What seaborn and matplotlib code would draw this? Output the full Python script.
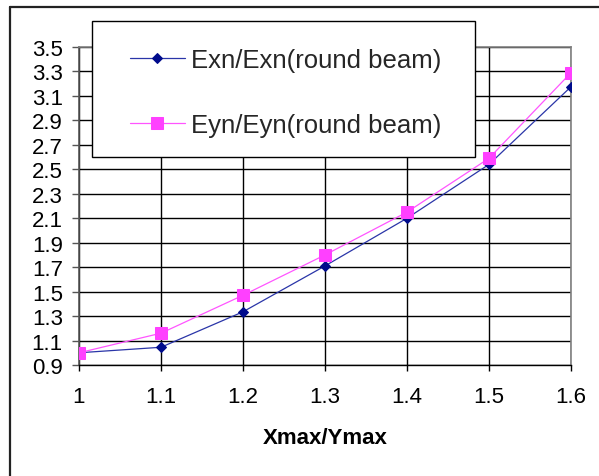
import matplotlib
matplotlib.use("Agg")
import matplotlib.pyplot as plt
from matplotlib.lines import Line2D
from matplotlib.patches import Rectangle
import seaborn as sns
import numpy as np

# Emittance ratio versus aperture aspect ratio
aspect = [1.0, 1.1, 1.2, 1.3, 1.4, 1.5, 1.6]
exn_ratio = [1.00, 1.045, 1.335, 1.71, 2.10, 2.54, 3.175]
eyn_ratio = [1.00, 1.16, 1.47, 1.80, 2.15, 2.59, 3.29]
series_labels = ["Exn/Exn(round beam)", "Eyn/Eyn(round beam)"]
x_ticks = [1.0, 1.1, 1.2, 1.3, 1.4, 1.5, 1.6]
x_tick_labels = ["1", "1.1", "1.2", "1.3", "1.4", "1.5", "1.6"]
y_ticks = [0.9, 1.1, 1.3, 1.5, 1.7, 1.9, 2.1, 2.3, 2.5, 2.7, 2.9, 3.1, 3.3, 3.5]

sns.set_theme(style="white")
plt.rcParams["font.family"] = ["Liberation Sans", "DejaVu Sans"]

W, H = 599, 477
fig = plt.figure(figsize=(W / 100, H / 100), dpi=100)
ax = fig.add_axes([79 / W, 1 - 366 / H, (571 - 79) / W, (366 - 48) / H])

sns.lineplot(x=aspect, y=exn_ratio, ax=ax, color="#2a35a8", lw=0.9,
             marker="D", markersize=5.2, markerfacecolor="#000b8c",
             markeredgecolor="#000b8c", label=series_labels[0], zorder=3)
sns.lineplot(x=aspect, y=eyn_ratio, ax=ax, color="#ff55ff", lw=0.9,
             marker="s", markersize=8.6, markerfacecolor="#ff40ff",
             markeredgecolor="#ff40ff", label=series_labels[1], zorder=4)

ax.set_xlim(1.0, 1.6)
ax.set_ylim(0.9, 3.5)
ax.set_xticks(x_ticks)
ax.set_xticklabels(x_tick_labels)
ax.set_yticks(y_ticks)
ax.set_yticklabels([f"{v:.1f}" for v in y_ticks])

ax.grid(True, color="black", lw=1.0, zorder=0)
ax.set_axisbelow(True)
for side in ["top", "right", "left"]:
    ax.spines[side].set_color("#808080")
    ax.spines[side].set_linewidth(1.2)
ax.spines["bottom"].set_color("black")
ax.spines["bottom"].set_linewidth(1.0)
ax.spines["left"].set_color("#555555")

ax.tick_params(axis="y", direction="out", length=5.2, width=1.0, color="#555555",
               labelsize=16, pad=6.5, left=True, labelcolor="black")
ax.tick_params(axis="x", direction="out", length=4.3, width=1.0, color="black",
               labelsize=16, pad=11, bottom=True, labelcolor="black")

ax.set_xlabel("Xmax/Ymax", fontsize=16, fontweight="bold", labelpad=14, color="black")
ax.set_ylabel("")

# Legend box with white fill over the grid
box = Rectangle((92 / W, 1 - 158 / H), (475 - 92) / W, (158 - 22) / H,
                transform=fig.transFigure, facecolor="white", edgecolor="black",
                lw=1.0, zorder=10, clip_on=False)
ax.add_artist(box)
leg = ax.legend(loc="upper left", bbox_to_anchor=(130 / W, 1 - 49 / H),
                bbox_transform=fig.transFigure, frameon=False, fontsize=18.5,
                borderpad=0, borderaxespad=0, handlelength=2.14,
                handletextpad=0.23, labelspacing=1.58)
leg.set_zorder(11)

# Outer chart frame (top and left edges)
fig.add_artist(Line2D([10 / W, 1.0], [1 - 8 / H, 1 - 8 / H], transform=fig.transFigure,
                      color="#222222", lw=1.6))
fig.add_artist(Line2D([10 / W, 10 / W], [1 - 8 / H, 0.0], transform=fig.transFigure,
                      color="#222222", lw=1.6))

fig.savefig("out.png", dpi=100, facecolor="white")
